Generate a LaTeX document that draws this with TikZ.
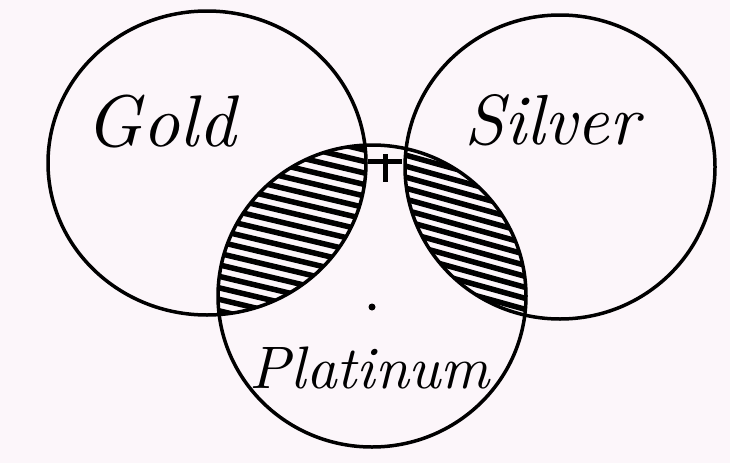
\documentclass[tikz,border=0pt]{standalone}
\definecolor{bg}{RGB}{252,246,250}
\begin{document}
\begin{tikzpicture}[x=1pt,y=-1pt,
  ring/.style={line width=3.5pt, draw=black},
  hatchline/.style={line width=5.5pt, draw=black},
  crossline/.style={line width=5pt, draw=black},
  lbl/.style={inner sep=0pt, font=\itshape}]
\fill[bg] (0,0) rectangle (730,463);
\useasboundingbox (0,0) rectangle (730,463);
% hatching Gold & Platinum
\begin{scope}
  \clip (207,163) ellipse [x radius=159pt, y radius=152pt];
  \clip (372,296) ellipse [x radius=154pt, y radius=151pt];
  \foreach \k in {0,...,35} { \draw[hatchline] (180,60+\k*11.5) -- (440,60+\k*11.5+62); }
\end{scope}
% hatching Silver & Platinum
\begin{scope}
  \clip (560,167) ellipse [x radius=155pt, y radius=152pt];
  \clip (372,296) ellipse [x radius=154pt, y radius=151pt];
  \foreach \k in {0,...,35} { \draw[hatchline] (380,60+\k*11) -- (560,60+\k*11+50); }
\end{scope}
% circles
\draw[ring] (207,163) ellipse [x radius=159pt, y radius=152pt];
\draw[ring] (560,167) ellipse [x radius=155pt, y radius=152pt];
\draw[ring] (372,296) ellipse [x radius=154pt, y radius=151pt];
% labels
\node[lbl] (gold) at (161,122) {\resizebox{150pt}{!}{Gold}};
\node[lbl] (silver) at (552,120) {\resizebox{175pt}{!}{Silver}};
\node[lbl] (plat) at (370,368) {\resizebox{240pt}{!}{Platinum}};
% plus mark
\coordinate (pc) at (385,161);
\coordinate (ptop) at (385,154);
\coordinate (pbot) at (385,182);
\coordinate (pleft) at (368,161);
\coordinate (pright) at (402,161);
\draw[crossline] (ptop) -- (pbot);
\draw[crossline] (pleft) -- (pright);
\fill (372,307) circle (3.5pt);
\end{tikzpicture}
\end{document}
